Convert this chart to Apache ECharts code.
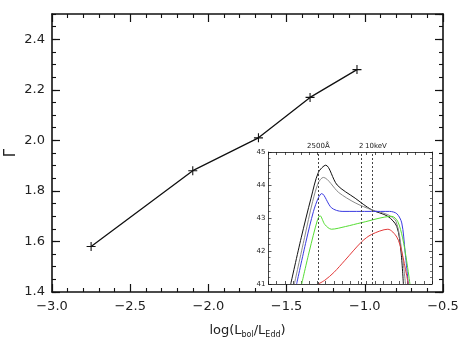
<!DOCTYPE html>
<html>
<head>
<meta charset="utf-8">
<script src="https://cdn.jsdelivr.net/npm/echarts@6/dist/echarts.min.js"></script>
<style>
  html, body { margin: 0; padding: 0; background: #fff; }
  #chart { width: 463px; height: 348px; }
</style>
</head>
<body>
<div id="chart"></div>
<script>
  // main panel: photon index vs Eddington ratio
  var logEdd = [-2.75, -2.1, -1.68, -1.35, -1.05];
  var gamma = [1.58, 1.88, 2.01, 2.17, 2.28];

  // inset: SEDs, log nu vs log nuLnu
  var sedBlack = [[13.36, 41], [14.0, 42.4], [14.6, 43.6], [15.05, 44.38], [15.5, 44.6], [16.2, 44.0], [17.3, 43.6], [18.3, 43.25], [19.3, 43.05], [19.85, 42.74], [20.1, 42.0], [20.25, 41]];
  var sedGray = [[13.58, 41], [14.2, 42.4], [14.7, 43.5], [15.05, 44.07], [15.35, 44.23], [16.3, 43.77], [17.3, 43.46], [18.3, 43.25], [19.3, 43.1], [19.8, 42.9], [20.15, 42.0], [20.38, 41]];
  var sedBlue = [[13.72, 41], [14.3, 42.3], [14.75, 43.2], [15.05, 43.61], [15.25, 43.74], [15.85, 43.31], [16.5, 43.2], [18.3, 43.2], [19.4, 43.2], [19.85, 43.13], [20.15, 42.85], [20.35, 42.0], [20.55, 41]];
  var sedGreen = [[14.03, 41], [14.5, 42.0], [15.0, 42.95], [15.15, 43.07], [15.45, 42.8], [15.85, 42.66], [16.7, 42.74], [17.7, 42.86], [19.55, 43.05], [19.9, 42.9], [20.2, 42.4], [20.45, 41.7], [20.65, 41]];
  var sedRed = [[15.05, 41], [15.46, 41.12], [16.0, 41.35], [16.68, 41.72], [17.7, 42.28], [18.3, 42.5], [19.3, 42.66], [19.85, 42.42], [20.15, 41.98], [20.45, 41.26], [20.55, 41]];
  var bandNames = ['2500Å', '2', '10keV'];
  var bandPos = [15.05, 17.67, 18.33];

  var chart = echarts.init(document.getElementById('chart'));
  var font = 'DejaVu Sans';
  var plus = 'path://M0,4.4L10,4.4L10,5.6L0,5.6Z M4.4,0L5.6,0L5.6,10L4.4,10Z';

  function frameX(grid, pos, min, max, interval, minor, opts) {
    return Object.assign({
      gridIndex: grid, type: 'value', position: pos, min: min, max: max, interval: interval,
      axisLine: { show: true, onZero: false, lineStyle: { color: '#111', width: grid === 0 ? 1.6 : 0.8 } },
      axisTick: { show: true, inside: true, length: grid === 0 ? 8 : 3, lineStyle: { color: '#111', width: grid === 0 ? 1.2 : 0.7 } },
      minorTick: { show: minor > 0, splitNumber: minor || 5, length: grid === 0 ? 4 : 2, lineStyle: { color: '#111', width: grid === 0 ? 1.1 : 0.6 } },
      axisLabel: { show: false },
      splitLine: { show: false }
    }, opts || {});
  }

  var bandLines = bandPos.map(function (v, i) {
    return {
      xAxis: v, name: bandNames[i],
      label: { offset: i === 2 ? [4, 0] : [0, 0] }
    };
  });

  chart.setOption({
    animation: false,
    backgroundColor: '#fff',
    textStyle: { fontFamily: font },
    grid: [
      { left: 52, top: 14, right: 20, bottom: 56, outerBoundsMode: 'none', containLabel: false },
      { left: 268.5, top: 152, right: 31, bottom: 64, outerBoundsMode: 'none', containLabel: false }
    ],
    graphic: [{
      type: 'text', x: 11, y: 153, rotation: Math.PI / 2,
      style: { text: 'Γ', fontFamily: font, fontSize: 15, fill: '#222', align: 'center', verticalAlign: 'middle' }
    }],
    xAxis: [
      frameX(0, 'bottom', -3, -0.5, 0.5, 5, {
        axisLabel: { show: true, fontFamily: font, fontSize: 13, color: '#222', margin: 8,
          formatter: function (v) { return v.toFixed(1).replace('-', '\u2212'); } },
        name: 'log(L{s|bol}/L{s|Edd})',
        nameLocation: 'middle', nameGap: 30,
        nameTextStyle: { fontFamily: font, fontSize: 13, color: '#222',
          rich: { s: { fontFamily: font, fontSize: 8, color: '#222', padding: [9, 0, 0, 0] } } }
      }),
      frameX(0, 'top', -3, -0.5, 0.5, 5),
      frameX(1, 'bottom', 12, 22, 0.5, 0),
      frameX(1, 'top', 12, 22, 0.5, 0)
    ],
    yAxis: [
      frameX(0, 'left', 1.4, 2.5, 0.2, 0, {
        axisLabel: { show: true, fontFamily: font, fontSize: 13, color: '#222', margin: 7, showMaxLabel: false,
          formatter: function (v) { return v.toFixed(1); } }
      }),
      frameX(0, 'left', 1.4, 2.5, 0.05, 0, { axisLine: { show: false }, axisTick: { show: true, inside: true, length: 4, lineStyle: { color: '#111', width: 1.1 } } }),
      frameX(0, 'right', 1.4, 2.5, 0.2, 0),
      frameX(0, 'right', 1.4, 2.5, 0.05, 0, { axisLine: { show: false }, axisTick: { show: true, inside: true, length: 4, lineStyle: { color: '#111', width: 1.1 } } }),
      frameX(1, 'left', 41, 45, 1, 5, {
        axisLabel: { show: true, fontFamily: font, fontSize: 7, color: '#222', margin: 3 }
      }),
      frameX(1, 'right', 41, 45, 1, 5)
    ],
    series: [
      {
        type: 'line', xAxisIndex: 0, yAxisIndex: 0,
        data: logEdd.map(function (x, i) { return [x, gamma[i]]; }),
        symbol: plus, symbolSize: 9,
        itemStyle: { color: '#111' },
        lineStyle: { color: '#111', width: 1.3 }
      },
      { type: 'line', xAxisIndex: 2, yAxisIndex: 4, data: sedBlack, smooth: 0.3, showSymbol: false, lineStyle: { color: '#111', width: 1 } },
      { type: 'line', xAxisIndex: 2, yAxisIndex: 4, data: sedGray, smooth: 0.3, showSymbol: false, lineStyle: { color: '#8a8a8a', width: 1 } },
      { type: 'line', xAxisIndex: 2, yAxisIndex: 4, data: sedBlue, smooth: 0.3, showSymbol: false, lineStyle: { color: '#3a3ae0', width: 1 } },
      { type: 'line', xAxisIndex: 2, yAxisIndex: 4, data: sedGreen, smooth: 0.3, showSymbol: false, lineStyle: { color: '#55dd33', width: 1 } },
      {
        type: 'line', xAxisIndex: 2, yAxisIndex: 4, data: sedRed, smooth: 0.3, showSymbol: false,
        lineStyle: { color: '#e23a3a', width: 1 },
        markLine: {
          silent: true, symbol: 'none',
          lineStyle: { color: '#444', type: [2, 2], width: 1 },
          label: { show: true, position: 'end', distance: 2, formatter: '{b}', fontFamily: font, fontSize: 7, color: '#222' },
          data: bandLines
        }
      }
    ]
  });
</script>
</body>
</html>
